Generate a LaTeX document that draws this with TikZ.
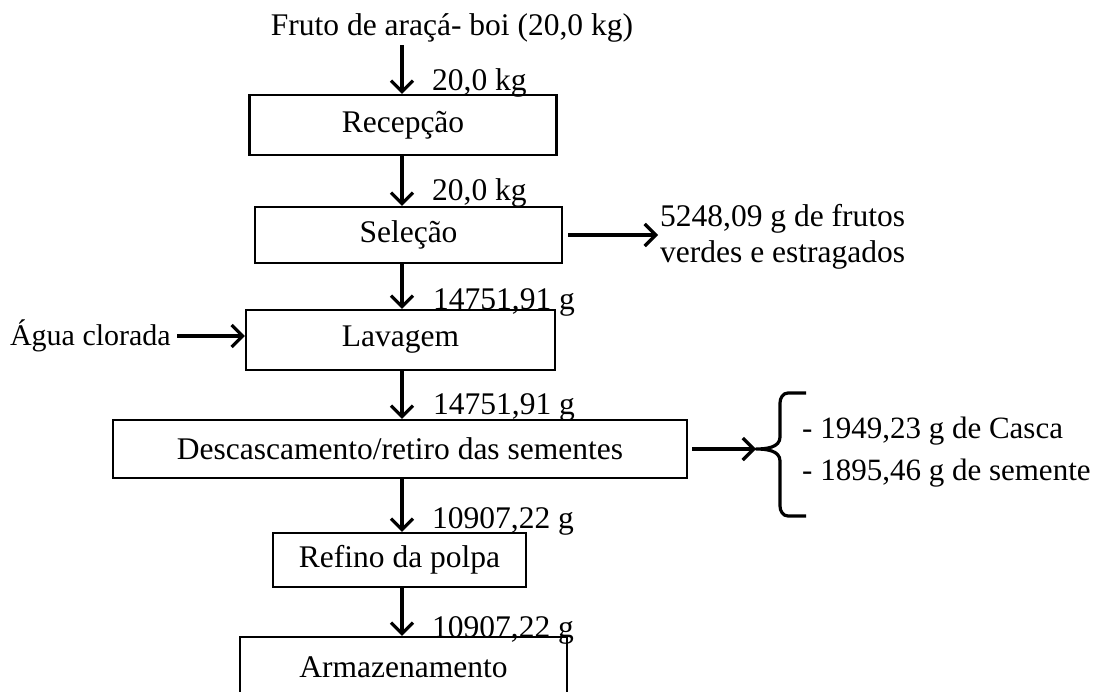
\documentclass[tikz,border=0pt]{standalone}
\usepackage{fontspec}
\setmainfont{Liberation Serif}
\usetikzlibrary{arrows.meta,positioning}

\tikzset{
	stage/.style={draw,line width=2.4pt,inner sep=0pt,align=center},
	flow/.style={line width=3.2pt,-{Straight Barb[length=11pt,width=22pt,line width=3.2pt]}},
	qty/.style={anchor=base west,inner sep=0pt},
	note/.style={inner sep=2pt,align=left}
}

\begin{document}
\begin{tikzpicture} [x=1pt,y=-1pt,font=\fontsize{31.5}{36}\selectfont]
		\clip (0,0) rectangle (1098,691);
		% Define stages
		\node (fruto) [anchor=base,inner sep=3pt] at (452,35) {Fruto de araçá- boi (20,0 kg)};
		\node (recepcao) [stage,minimum width=307pt,minimum height=60pt] at (403,125) {Recepção};
		\node (selecao) [stage,minimum width=307pt,minimum height=56pt] at (408.5,235) {Seleção};
		\node (lavagem) [stage,minimum width=309pt,minimum height=60pt] at (400.5,340) {Lavagem};
		\node (descasc) [stage,minimum width=574pt,minimum height=58pt] at (400,449) {Descascamento/retiro das sementes};
		\node (refino) [stage,minimum width=253pt,minimum height=54pt] at (399.5,560) {Refino da polpa};
		\node (armazen) [stage,minimum width=327pt,minimum height=60pt] at (403.5,667) {Armazenamento};
		\coordinate (axis) at (402,0);

		% Quantities
		\node (q1) [qty] at (432,90) {20,0 kg};
		\node (q2) [qty] at (432,200) {20,0 kg};
		\node (q3) [qty] at (433,309) {14751,91 g};
		\node (q4) [qty] at (433,414) {14751,91 g};
		\node (q5) [qty] at (432,528) {10907,22 g};
		\node (q6) [qty] at (432,637) {10907,22 g};

		% Main line
		\draw[flow] (fruto.south -| axis) -- (recepcao.north -| axis);
		\draw[flow] (recepcao.south -| axis) -- (selecao.north -| axis);
		\draw[flow] (selecao.south -| axis) -- (lavagem.north -| axis);
		\draw[flow] (lavagem.south -| axis) -- (descasc.north -| axis);
		\draw[flow] (descasc.south -| axis) -- (refino.north -| axis);
		\draw[flow] (refino.south -| axis) -- (armazen.north -| axis);

		% Inputs and losses
		\node (agua) [anchor=east,inner sep=3pt,font=\fontsize{30}{36}\selectfont] at (174,336) {Água clorada};
		\draw[flow] (agua.east) ++(3,0) -- (agua.east -| lavagem.west);

		\node (frutos) [note,anchor=west] at (658,237) {5248,09 g de frutos\\verdes e estragados};
		\draw[flow] (selecao.east) ++(5,0) -- (frutos.west |- selecao.east);

		\coordinate (bracetip) at (756,449);
		\draw[line width=3.2pt,line join=round] (806,393) -- (788,393) to[out=180,in=90] (780,403) -- (780,437)
			to[out=-90,in=0] (bracetip) to[out=0,in=90] (780,461) -- (780,506) to[out=-90,in=180] (788,516) -- (806,516);
		\draw[flow] (descasc.east) ++(4,0) -- (bracetip);
		\node (residuos) [note,anchor=west,font=\fontsize{31}{42}\selectfont] at (800,452) {- 1949,23 g de Casca\\- 1895,46 g de semente};
	\end{tikzpicture}
\end{document}
